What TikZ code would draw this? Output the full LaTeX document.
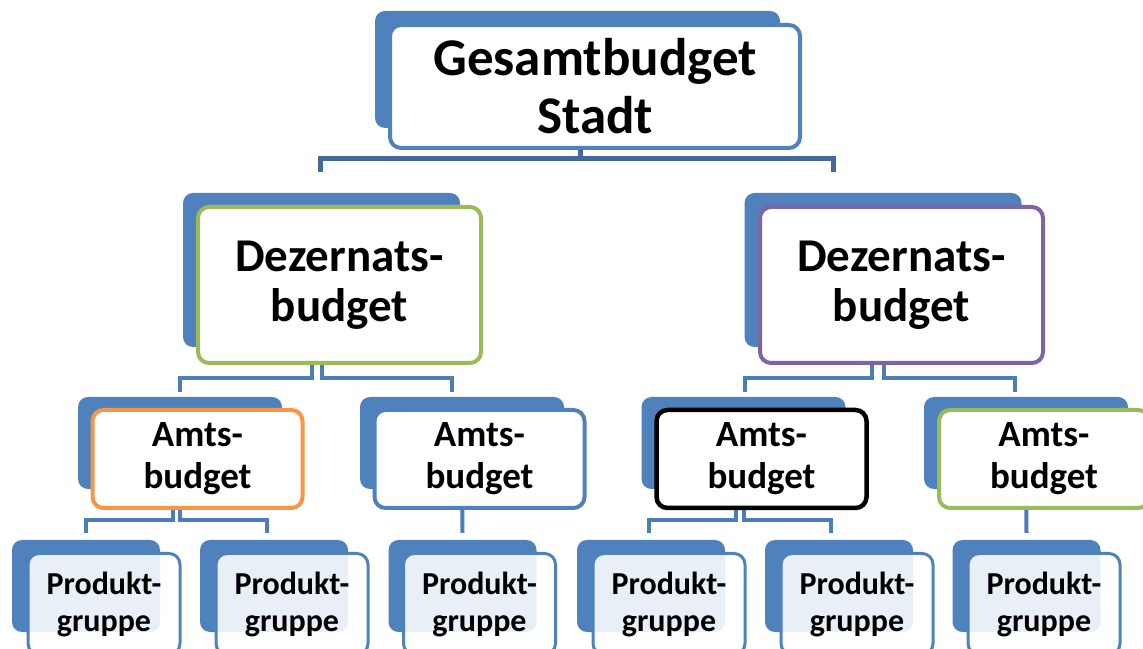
\documentclass[tikz,border=0pt]{standalone}
\usepackage{fontspec}
\setmainfont{Carlito}
\usepackage{tikz}
\usepackage{xcolor}
\usetikzlibrary{backgrounds}

\definecolor{boxblue}{HTML}{4F81BD}
\definecolor{lineblue}{HTML}{4A7EBB}
\definecolor{topline}{HTML}{41699B}
\definecolor{dezgreen}{HTML}{9BBB59}
\definecolor{dezpurple}{HTML}{8064A2}
\definecolor{amtorange}{HTML}{F79646}

\newcommand{\topfont}{\fontsize{53}{58}\selectfont\bfseries}
\newcommand{\dezfont}{\fontsize{47}{50}\selectfont\bfseries}
\newcommand{\amtfont}{\fontsize{37}{42}\selectfont\bfseries}
\newcommand{\prodfont}{\fontsize{32}{37}\selectfont\bfseries}

\begin{document}
\begin{tikzpicture}[x=1pt,y=1pt,
    back/.style={fill=boxblue,rounded corners=10pt,inner sep=0pt},
    front/.style={fill=white,draw=#1,line width=4pt,rounded corners=11pt,
        inner sep=0pt,align=center},
    prodbox/.style={fill=white,fill opacity=0.88,text opacity=1,draw=boxblue,
        line width=3pt,rounded corners=11pt,inner sep=0pt,align=center},
    conn/.style={lineblue,line width=4pt}]
    \useasboundingbox (0,0) rectangle (1143,648);
    \clip (0,0) rectangle (1143,648);

    % Top level
    \node [back,minimum width=405pt,minimum height=117pt] (TopB) at (577.5,578.5) {};
    \node [front=boxblue,minimum width=410pt,minimum height=123pt,font=\topfont]
        (Top) at (595,561.5) {Gesamtbudget\\Stadt};

    % Dezernate
    \node [back,minimum width=277pt,minimum height=154pt] (DezLB) at (321.5,378) {};
    \node [front=dezgreen,minimum width=283pt,minimum height=156pt,font=\dezfont]
        (DezL) at (339.5,363) {Dezernats-\\budget};
    \node [back,minimum width=277pt,minimum height=154pt] (DezRB) at (883,378) {};
    \node [front=dezpurple,minimum width=283pt,minimum height=156pt,font=\dezfont]
        (DezR) at (901.5,363) {Dezernats-\\budget};

    % Aemter
    \node [back,minimum width=204pt,minimum height=92pt] (AmtAB) at (180,205) {};
    \node [front=amtorange,minimum width=210pt,minimum height=98pt,font=\amtfont]
        (AmtA) at (197.5,189) {Amts-\\budget};
    \node [back,minimum width=204pt,minimum height=92pt] (AmtBB) at (462,205) {};
    \node [front=boxblue,minimum width=210pt,minimum height=98pt,font=\amtfont]
        (AmtB) at (479.5,189) {Amts-\\budget};
    \node [back,minimum width=204pt,minimum height=92pt] (AmtCB) at (743.5,205) {};
    \node [front=black,line width=4.5pt,minimum width=210pt,minimum height=98pt,font=\amtfont]
        (AmtC) at (761.5,189) {Amts-\\budget};
    \node [back,minimum width=204pt,minimum height=92pt] (AmtDB) at (1026,205) {};
    \node [front=dezgreen,minimum width=210pt,minimum height=98pt,font=\amtfont]
        (AmtD) at (1044,189) {Amts-\\budget};

    % Produktgruppen
    \node [back,minimum width=148pt,minimum height=92pt] (ProdAB) at (86,62) {};
    \node [prodbox,minimum width=152pt,minimum height=101pt,font=\prodfont]
        (ProdA) at (104,44) {Produkt-\\gruppe};
    \node [back,minimum width=148pt,minimum height=92pt] (ProdBB) at (274,62) {};
    \node [prodbox,minimum width=152pt,minimum height=101pt,font=\prodfont]
        (ProdB) at (292,44) {Produkt-\\gruppe};
    \node [back,minimum width=148pt,minimum height=92pt] (ProdCB) at (462.5,62) {};
    \node [prodbox,minimum width=152pt,minimum height=101pt,font=\prodfont]
        (ProdC) at (479.5,44) {Produkt-\\gruppe};
    \node [back,minimum width=148pt,minimum height=92pt] (ProdDB) at (651,62) {};
    \node [prodbox,minimum width=152pt,minimum height=101pt,font=\prodfont]
        (ProdD) at (669,44) {Produkt-\\gruppe};
    \node [back,minimum width=148pt,minimum height=92pt] (ProdEB) at (839,62) {};
    \node [prodbox,minimum width=152pt,minimum height=101pt,font=\prodfont]
        (ProdE) at (857,44) {Produkt-\\gruppe};
    \node [back,minimum width=148pt,minimum height=92pt] (ProdFB) at (1026.5,62) {};
    \node [prodbox,minimum width=152pt,minimum height=101pt,font=\prodfont]
        (ProdF) at (1044,44) {Produkt-\\gruppe};

    % Connectors behind the boxes
    \begin{scope}[on background layer]
    \draw [conn,topline,line width=5pt] ([xshift=2.5pt]TopB.south) -- ++(0,-30)
        -| ([xshift=-1.5pt,yshift=21pt]DezLB.north);
    \draw [conn,topline,line width=5pt] ([xshift=2.5pt]TopB.south) -- ++(0,-30)
        -| ([xshift=-50pt,yshift=21pt]DezRB.north);

    \draw [conn] ([xshift=-9.5pt]DezLB.south) -- ++(0,-31) -| ([yshift=5pt]AmtAB.north);
    \draw [conn] (DezLB.south) -- ++(0,-31) -| ([xshift=-10pt,yshift=5pt]AmtBB.north);
    \draw [conn] ([xshift=-11pt]DezRB.south) -- ++(0,-31) -| ([xshift=1pt,yshift=5pt]AmtCB.north);
    \draw [conn] ([xshift=1pt]DezRB.south) -- ++(0,-31) -| ([xshift=-11pt,yshift=5pt]AmtDB.north);

    \draw [conn] ([xshift=-7pt]AmtAB.south) -- ++(0,-31) -| ([yshift=7pt]ProdAB.north);
    \draw [conn] (AmtAB.south) -- ++(0,-31) -| ([xshift=-7pt,yshift=7pt]ProdBB.north);
    \draw [conn] (AmtBB.south) -- ([yshift=7pt]ProdCB.north);
    \draw [conn] ([xshift=-7.5pt]AmtCB.south) -- ++(0,-31) -| ([xshift=-2pt,yshift=7pt]ProdDB.north);
    \draw [conn] (AmtCB.south) -- ++(0,-31) -| ([xshift=-8pt,yshift=7pt]ProdEB.north);
    \draw [conn] (AmtDB.south) -- ([yshift=7pt]ProdFB.north);
    \end{scope}
\end{tikzpicture}
\end{document}
